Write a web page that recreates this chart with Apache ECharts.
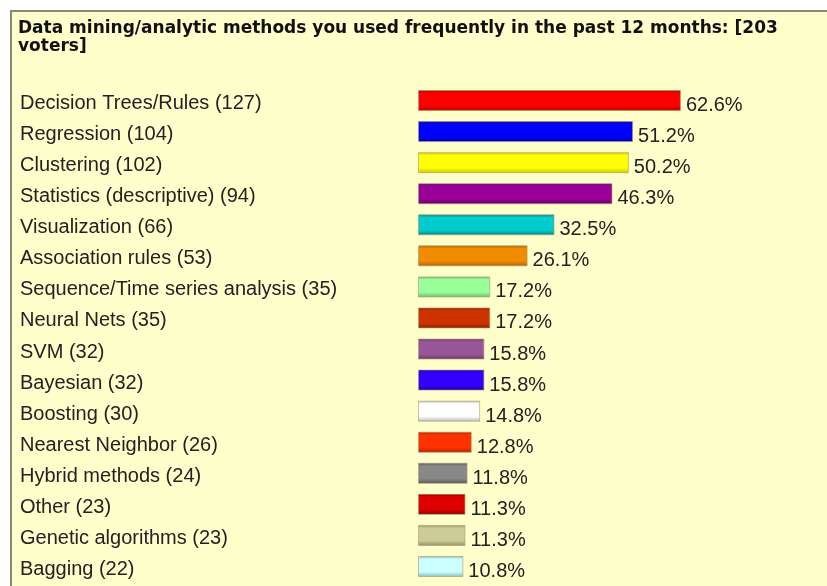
<!DOCTYPE html>
<html lang="en">
<head>
    <meta charset="UTF-8">
    <title>Data mining methods</title>
    <script src="https://cdn.jsdelivr.net/npm/echarts@6/dist/echarts.min.js"></script>
    <style>
        html,body{margin:0;padding:0;background:#fff;}
        #main{width:827px;height:586px;}
    </style>
</head>
<body>
    <div id="main"></div>
    <script>
        // methods, voter counts and share of 203 voters
        var methods = ['Decision Trees/Rules', 'Regression', 'Clustering', 'Statistics (descriptive)',
            'Visualization', 'Association rules', 'Sequence/Time series analysis', 'Neural Nets',
            'SVM', 'Bayesian', 'Boosting', 'Nearest Neighbor', 'Hybrid methods', 'Other',
            'Genetic algorithms', 'Bagging'];
        var counts = [127, 104, 102, 94, 66, 53, 35, 35, 32, 32, 30, 26, 24, 23, 23, 22];
        var percents = [62.6, 51.2, 50.2, 46.3, 32.5, 26.1, 17.2, 17.2, 15.8, 15.8, 14.8, 12.8, 11.8, 11.3, 11.3, 10.8];
        var barColors = ['#ff0000', '#0000ff', '#ffff00', '#990099', '#00cccc', '#f08c00', '#99ff99', '#cc3300',
            '#995599', '#3300ff', '#ffffff', '#ff3300', '#888888', '#dd0000', '#cccc99', '#ccffff'];
        var edgeColors = ['#b00000', '#0000a0', '#c8c800', '#660066', '#008888', '#b06000', '#66bb66', '#882200',
            '#6a3a6a', '#2200a8', '#b8b8b8', '#b02200', '#555555', '#8a0000', '#8f8f66', '#88bbbb'];

        var labels = methods.map(function(m, i){ return m + ' (' + counts[i] + ')'; });

        var chart = echarts.init(document.getElementById('main'));
        var option = {
            backgroundColor: '#ffffff',
            animation: false,
            graphic: [{
                type: 'rect',
                shape: {x: 10, y: 10, width: 900, height: 700},
                style: {fill: '#ffffcc'},
                z: -10
            }, {
                // top and left edges of the panel
                type: 'polyline',
                shape: {points: [[11, 700], [11, 11], [900, 11]]},
                style: {stroke: '#888878', lineWidth: 2, fill: null},
                z: -9
            }, {
                type: 'text',
                left: 18,
                top: 20,
                style: {
                    text: 'Data mining/analytic methods you used frequently in the past 12 months: [203\nvoters]',
                    font: 'bold 17px "DejaVu Sans"',
                    fill: '#111',
                    lineHeight: 18
                }
            }],
            // 4.2px per percent: 400px wide grid spans 0..95.24
            grid: {left: 418, top: 85, width: 400, height: 497},
            xAxis: {type: 'value', min: 0, max: 400 / 4.2, show: false},
            yAxis: {
                type: 'category',
                inverse: true,
                data: labels,
                axisLine: {show: false},
                axisTick: {show: false},
                axisLabel: {
                    align: 'left',
                    margin: 398,
                    formatter: function(v){ return '{t|' + v + '}'; },
                    rich: {
                        t: {
                            padding: [6, 0, 0, 0],
                            fontFamily: 'Liberation Sans',
                            fontSize: 20,
                            color: '#222'
                        }
                    }
                }
            },
            series: [{
                type: 'bar',
                barWidth: 21,
                data: percents.map(function(v, i){
                    return {
                        value: v,
                        itemStyle: {
                            color: new echarts.graphic.LinearGradient(0, 0, 0, 1, [
                                {offset: 0, color: edgeColors[i]},
                                {offset: 0.15, color: barColors[i]},
                                {offset: 0.75, color: barColors[i]},
                                {offset: 1, color: edgeColors[i]}
                            ]),
                            borderColor: 'rgba(170,150,110,0.6)',
                            borderWidth: 1
                        }
                    };
                }),
                label: {
                    show: true,
                    position: 'right',
                    distance: 5,
                    offset: [0, 5],
                    formatter: '{c}%',
                    fontFamily: 'Liberation Sans',
                    fontSize: 20,
                    color: '#222'
                }
            }]
        };
        chart.setOption(option);
    </script>
</body>
</html>
